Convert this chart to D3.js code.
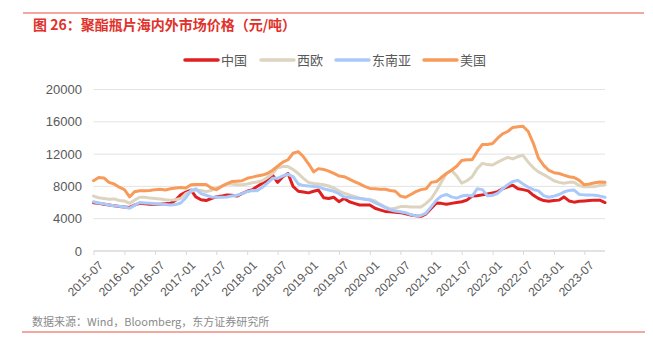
<!DOCTYPE html>
<html>
<head>
<meta charset="utf-8">
<script src="https://cdn.jsdelivr.net/npm/d3@7"></script>
<style>
  body { margin: 0; background: #fff; }
  svg { display: block; font-family: "Liberation Sans", Arial, "Noto Sans CJK SC", sans-serif; }
</style>
</head>
<body>
<svg id="chart" width="653" height="343"></svg>
<script>
// monthly, 2015-07 .. 2023-11
const startMonth = "2015-07";
const seriesNames = ["中国", "西欧", "东南亚", "美国"];
const seriesColors = ["#e02020", "#ddd4bf", "#a9c9fb", "#f89b5a"];

const china = [5980, 5900, 5800, 5700, 5600, 5500, 5450, 5400, 5700, 5900,
  5850, 5800, 5800, 5800, 5850, 5900, 6300, 6950, 7300, 7550,
  6700, 6350, 6250, 6500, 6700, 6800, 6950, 6900, 6800, 7100,
  7400, 7600, 8000, 8400, 8700, 9400, 8500, 9200, 9600, 8000,
  7400, 7300, 7200, 7400, 7550, 6600, 6500, 6650, 6100, 6500,
  6100, 5900, 5700, 5700, 5700, 5300, 5100, 4900, 4850, 4800,
  4750, 4600, 4450, 4350, 4300, 4600, 5300, 5950, 5900, 5800,
  5900, 6000, 6100, 6300, 6800, 6850, 6950, 7050, 7200, 7350,
  7700, 7950, 8150, 7700, 7600, 7450, 6900, 6500, 6250, 6150,
  6250, 6300, 6700, 6200, 6050, 6150, 6200, 6250, 6300, 6300, 6000];

const westEurope = [6800, 6600, 6500, 6400, 6450, 6250, 6200, 5900, 6300, 6650,
  6650, 6550, 6500, 6450, 6350, 6300, 6350, 6500, 7100, 7400,
  7550, 7500, 7350, 7500, 7800, 8000, 8300, 8300, 8200, 8200,
  8300, 8450, 8550, 8700, 9100, 9600, 10300, 10450, 10450, 10100,
  9600, 9000, 8500, 8350, 8300, 8200, 8050, 7800, 7450, 7150,
  6950, 6750, 6550, 6450, 6400, 6200, 5800, 5450, 5200, 5300,
  5500, 5500, 5450, 5450, 5450, 5900, 6500, 7500, 8500, 9600,
  10000, 9300, 8400, 8700, 9200, 10200, 10850, 10700, 10650, 11000,
  11300, 11600, 11400, 11700, 11850, 11000, 10300, 9800, 9450, 9100,
  8700, 8500, 8400, 8500, 8500, 8100, 7950, 7950, 8000, 8100, 8200];

const seAsia = [6100, 5950, 5850, 5700, 5600, 5550, 5450, 5300, 5650, 6000,
  5950, 5900, 5850, 5800, 5750, 5700, 5750, 5950, 6600, 7500,
  7700, 7100, 6900, 6700, 6650, 6650, 6700, 6800, 6900, 7100,
  7350, 7500, 7450, 7900, 8400, 9000, 9000, 9300, 9500, 9200,
  8300, 8100, 8050, 8000, 7950, 7700, 7550, 7400, 7100, 6700,
  6650, 6550, 6500, 6400, 6300, 6000, 5700, 5400, 5100, 4950,
  4850, 4750, 4500, 4350, 4400, 4700, 5500, 6300, 6800, 7000,
  6700, 6550, 6800, 6900, 6800, 7700, 7600, 6850, 6900, 7150,
  7700, 8200, 8600, 8750, 8300, 7900, 7600, 7450, 6850, 6650,
  6800, 7000, 7300, 7500, 7550, 7000, 6950, 6950, 6900, 6800, 6650];

const usa = [8700, 9100, 9050, 8500, 8300, 7900, 7600, 6700, 7350, 7450,
  7450, 7500, 7600, 7650, 7550, 7700, 7800, 7850, 7800, 8200,
  8250, 8250, 8250, 7800, 7600, 8000, 8300, 8600, 8650, 8700,
  9000, 9150, 9300, 9400, 9600, 10000, 10500, 11000, 11300, 12100,
  12300, 11700, 10800, 9800, 10200, 10100, 9900, 9600, 9300, 9200,
  8900, 8600, 8300, 8000, 7750, 7700, 7650, 7650, 7500, 7400,
  6800, 6650, 7000, 7350, 7600, 7700, 8500, 8600, 9100, 9600,
  10000, 10500, 11200, 11300, 11300, 12300, 13200, 13200, 13300, 14000,
  14500, 14800, 15300, 15400, 15450, 14800, 13300, 11500, 10600, 10000,
  9700, 9600, 9400, 9200, 9100, 8750, 8200, 8300, 8450, 8550, 8500];

const xTickLabels = ["2015-07", "2016-01", "2016-07", "2017-01", "2017-07", "2018-01",
  "2018-07", "2019-01", "2019-07", "2020-01", "2020-07", "2021-01", "2021-07",
  "2022-01", "2022-07", "2023-01", "2023-07"];
const yTicks = [0, 4000, 8000, 12000, 16000, 20000];

const allSeries = [china, westEurope, seAsia, usa];

const svg = d3.select("#chart");
const margin = { top: 89.5, left: 93.5, right: 48, bottom: 92 };
const width = 653, height = 343;

const parse = d3.timeParse("%Y-%m");
const t0 = parse(startMonth);
const dates = china.map((d, i) => d3.timeMonth.offset(t0, i));

const x = d3.scaleTime()
  .domain([t0, d3.timeMonth.offset(t0, 100)])
  .range([margin.left, 605]);
const y = d3.scaleLinear()
  .domain([0, 20000])
  .range([251, margin.top]);

// frame lines
svg.append("line").attr("x1", 23).attr("x2", 644).attr("y1", 13).attr("y2", 13)
  .attr("stroke", "#e8503f").attr("stroke-width", 1);
svg.append("line").attr("x1", 22).attr("x2", 645).attr("y1", 332).attr("y2", 332)
  .attr("stroke", "#e8503f").attr("stroke-width", 1);

// title
svg.append("text")
  .attr("x", 33).attr("y", 30)
  .attr("fill", "#e0312b")
  .attr("font-size", "14px")
  .attr("font-weight", "bold")
  .attr("font-family", "'Noto Sans CJK SC', sans-serif")
  .text("图 26：聚酯瓶片海内外市场价格（元/吨）");

// gridlines
svg.append("g")
  .selectAll("line")
  .data(yTicks.filter(d => d > 0))
  .join("line")
  .attr("x1", margin.left).attr("x2", 605)
  .attr("y1", d => y(d)).attr("y2", d => y(d))
  .attr("stroke", "#e3e3e3").attr("stroke-width", 1);

// y axis labels
svg.append("g")
  .selectAll("text")
  .data(yTicks)
  .join("text")
  .attr("x", 82).attr("y", d => y(d))
  .attr("dy", "0.35em")
  .attr("text-anchor", "end")
  .attr("font-size", "13px")
  .attr("fill", "#595959")
  .text(d => d);

// x axis
const xAxis = svg.append("g")
  .attr("transform", `translate(0,${y(0)})`)
  .call(d3.axisBottom(x)
    .tickValues(xTickLabels.map(parse))
    .tickSize(4)
    .tickSizeOuter(0)
    .tickFormat(d3.timeFormat("%Y-%m")));
xAxis.select(".domain").attr("stroke", "#d9d9d9").attr("stroke-width", 1.5)
  .attr("d", `M${margin.left},0H605`);
xAxis.selectAll(".tick line").attr("stroke", "#d9d9d9");
xAxis.selectAll(".tick text")
  .attr("font-size", "12px")
  .attr("fill", "#595959")
  .attr("font-family", "'Liberation Sans', Arial, sans-serif")
  .attr("text-anchor", "end")
  .attr("dx", "0")
  .attr("dy", "0")
  .attr("transform", "translate(5,10) rotate(-45)");

// lines
const line = d3.line()
  .x((d, i) => x(dates[i]))
  .y(d => y(d))
  .curve(d3.curveLinear);

svg.append("g")
  .selectAll("path")
  .data(allSeries)
  .join("path")
  .attr("fill", "none")
  .attr("stroke", (d, i) => seriesColors[i])
  .attr("stroke-width", 3)
  .attr("stroke-linejoin", "round")
  .attr("stroke-linecap", "round")
  .attr("d", line);

// legend
const legendX = [185, 261, 336, 424];
const legend = svg.append("g")
  .selectAll("g")
  .data(seriesNames)
  .join("g")
  .attr("transform", (d, i) => `translate(${legendX[i]},60)`);
legend.append("line")
  .attr("x1", 0).attr("x2", 33)
  .attr("stroke", (d, i) => seriesColors[i])
  .attr("stroke-width", 3.5)
  .attr("stroke-linecap", "round");
legend.append("text")
  .attr("x", 36).attr("dy", "0.35em")
  .attr("font-size", "13px")
  .attr("fill", "#595959")
  .attr("font-family", "'Noto Sans CJK SC', sans-serif")
  .text(d => d);

// source
svg.append("text")
  .attr("x", 32).attr("y", 322)
  .attr("dy", "0.35em")
  .attr("font-size", "11px")
  .attr("fill", "#8a8a8a")
  .attr("font-family", "'Noto Sans CJK SC', sans-serif")
  .text("数据来源：Wind，Bloomberg，东方证券研究所");
</script>
</body>
</html>
